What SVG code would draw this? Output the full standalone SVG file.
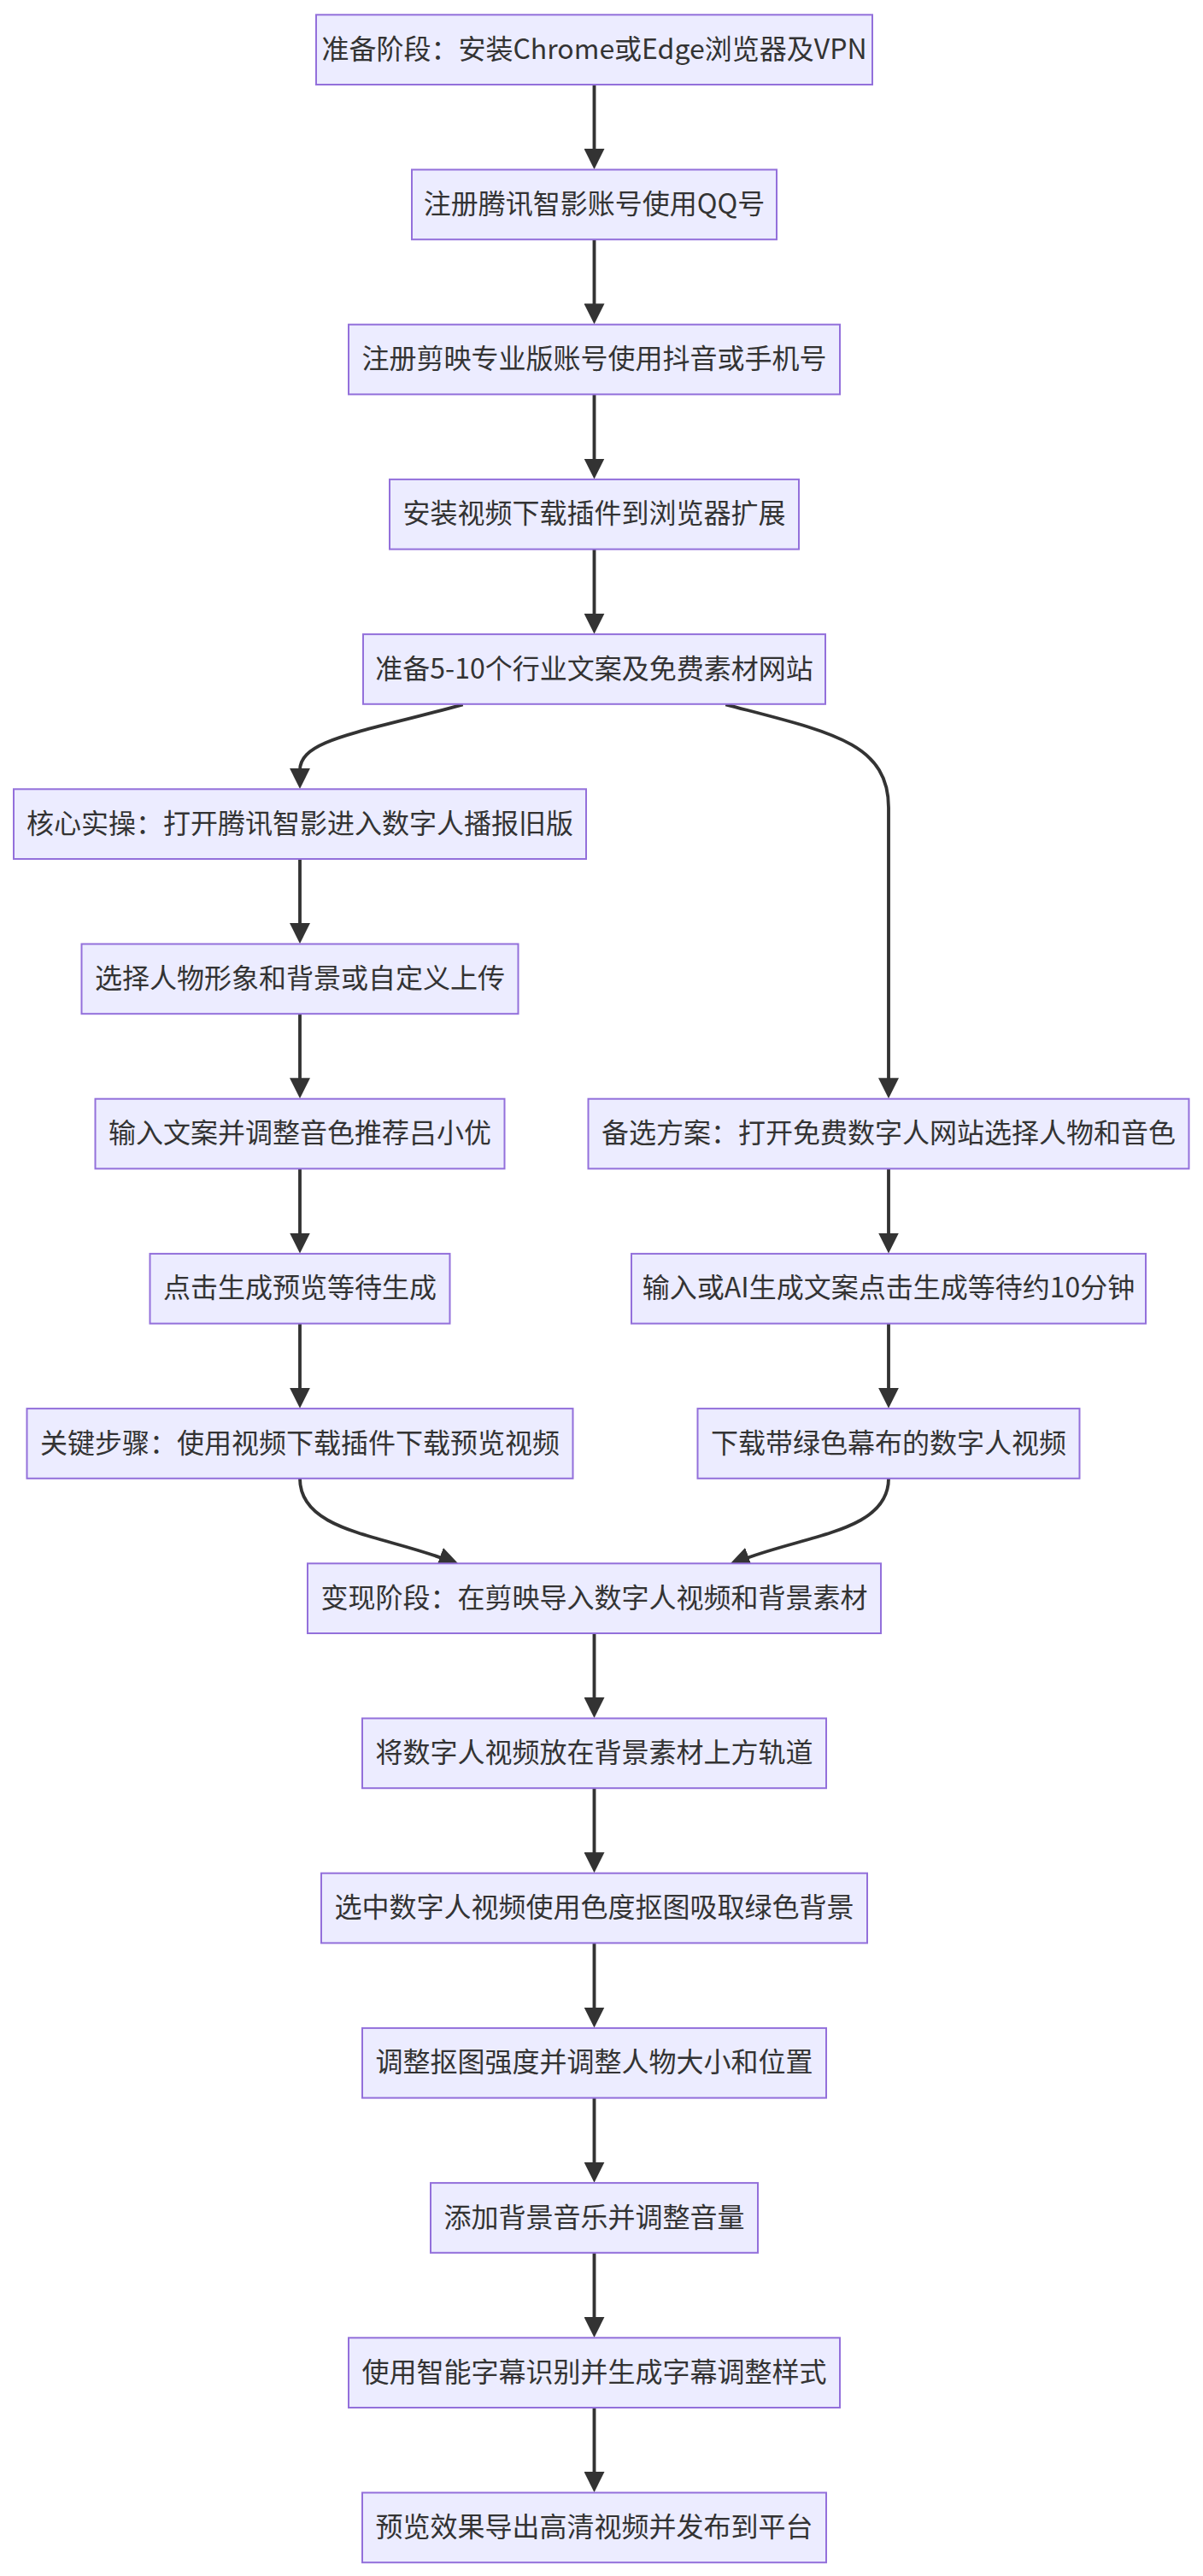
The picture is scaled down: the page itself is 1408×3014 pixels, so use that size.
<svg xmlns="http://www.w3.org/2000/svg" width="1408" height="3014" viewBox="0 0 1408 3014">
<style>
.node rect{fill:#ECECFF;stroke:#9370DB;stroke-width:2}
.node text{font-family:"Noto Sans CJK SC","Noto Sans",sans-serif;font-size:32px;fill:#333333;text-anchor:middle}
.edge{fill:none;stroke:#333333;stroke-width:3.85}
</style>
<defs>
<marker id="arrow" viewBox="0 0 10 10" refX="1" refY="5" markerUnits="userSpaceOnUse" markerWidth="24" markerHeight="24" orient="auto">
<path d="M0,0 L10,5 L0,10 z" fill="#333333"/>
</marker>
</defs>
<rect x="0" y="0" width="1408" height="3014" fill="#ffffff"/>
<g id="edges">
<path class="edge" marker-end="url(#arrow)" d="M695.5,99 V176.5"/>
<path class="edge" marker-end="url(#arrow)" d="M695.5,280.2 V357.7"/>
<path class="edge" marker-end="url(#arrow)" d="M695.5,461.4 V538.9"/>
<path class="edge" marker-end="url(#arrow)" d="M695.5,642.6 V720.1"/>
<path class="edge" marker-end="url(#arrow)" d="M541.7,824.3 C420,858 351,865 351,901.3"/>
<path class="edge" marker-end="url(#arrow)" d="M849.3,824.3 C970,856 1040,868 1040,945 V1263.7"/>
<path class="edge" marker-end="url(#arrow)" d="M351,1005 V1082.5"/>
<path class="edge" marker-end="url(#arrow)" d="M351,1186.2 V1263.7"/>
<path class="edge" marker-end="url(#arrow)" d="M351,1367.4 V1444.9"/>
<path class="edge" marker-end="url(#arrow)" d="M351,1548.6 V1626.1"/>
<path class="edge" marker-end="url(#arrow)" d="M1040,1367.4 V1444.9"/>
<path class="edge" marker-end="url(#arrow)" d="M1040,1548.6 V1626.1"/>
<path class="edge" marker-end="url(#arrow)" d="M351,1729.8 C351,1790 440,1795 517,1823"/>
<path class="edge" marker-end="url(#arrow)" d="M1040,1729.8 C1040,1790 951,1795 874,1823"/>
<path class="edge" marker-end="url(#arrow)" d="M695.5,1911 V1988.5"/>
<path class="edge" marker-end="url(#arrow)" d="M695.5,2092.2 V2169.7"/>
<path class="edge" marker-end="url(#arrow)" d="M695.5,2273.4 V2350.9"/>
<path class="edge" marker-end="url(#arrow)" d="M695.5,2454.6 V2532.1"/>
<path class="edge" marker-end="url(#arrow)" d="M695.5,2635.8 V2713.3"/>
<path class="edge" marker-end="url(#arrow)" d="M695.5,2817 V2894.5"/>
</g>
<g id="n1" class="node"><rect x="370" y="17.3" width="651" height="81.7"/><text x="695.5" y="68.8">准备阶段：安装Chrome或Edge浏览器及VPN</text></g>
<g id="n2" class="node"><rect x="482" y="198.5" width="427" height="81.7"/><text x="695.5" y="250">注册腾讯智影账号使用QQ号</text></g>
<g id="n3" class="node"><rect x="408" y="379.7" width="575" height="81.7"/><text x="695.5" y="431.2">注册剪映专业版账号使用抖音或手机号</text></g>
<g id="n4" class="node"><rect x="456" y="560.9" width="479" height="81.7"/><text x="695.5" y="612.4">安装视频下载插件到浏览器扩展</text></g>
<g id="n5" class="node"><rect x="425" y="742.1" width="541" height="81.7"/><text x="695.5" y="793.6">准备5-10个行业文案及免费素材网站</text></g>
<g id="n6" class="node"><rect x="16" y="923.3" width="670" height="81.7"/><text x="351" y="974.8">核心实操：打开腾讯智影进入数字人播报旧版</text></g>
<g id="n7" class="node"><rect x="95.5" y="1104.5" width="511" height="81.7"/><text x="351" y="1156">选择人物形象和背景或自定义上传</text></g>
<g id="n8" class="node"><rect x="111.5" y="1285.7" width="479" height="81.7"/><text x="351" y="1337.2">输入文案并调整音色推荐吕小优</text></g>
<g id="n9" class="node"><rect x="175.5" y="1466.9" width="351" height="81.7"/><text x="351" y="1518.4">点击生成预览等待生成</text></g>
<g id="n10" class="node"><rect x="31.5" y="1648.1" width="639" height="81.7"/><text x="351" y="1699.6">关键步骤：使用视频下载插件下载预览视频</text></g>
<g id="n11" class="node"><rect x="688.5" y="1285.7" width="703" height="81.7"/><text x="1040" y="1337.2">备选方案：打开免费数字人网站选择人物和音色</text></g>
<g id="n12" class="node"><rect x="739" y="1466.9" width="602" height="81.7"/><text x="1040" y="1518.4">输入或AI生成文案点击生成等待约10分钟</text></g>
<g id="n13" class="node"><rect x="816.5" y="1648.1" width="447" height="81.7"/><text x="1040" y="1699.6">下载带绿色幕布的数字人视频</text></g>
<g id="n14" class="node"><rect x="360" y="1829.3" width="671" height="81.7"/><text x="695.5" y="1880.8">变现阶段：在剪映导入数字人视频和背景素材</text></g>
<g id="n15" class="node"><rect x="424" y="2010.5" width="543" height="81.7"/><text x="695.5" y="2062">将数字人视频放在背景素材上方轨道</text></g>
<g id="n16" class="node"><rect x="376" y="2191.7" width="639" height="81.7"/><text x="695.5" y="2243.2">选中数字人视频使用色度抠图吸取绿色背景</text></g>
<g id="n17" class="node"><rect x="424" y="2372.9" width="543" height="81.7"/><text x="695.5" y="2424.4">调整抠图强度并调整人物大小和位置</text></g>
<g id="n18" class="node"><rect x="504" y="2554.1" width="383" height="81.7"/><text x="695.5" y="2605.6">添加背景音乐并调整音量</text></g>
<g id="n19" class="node"><rect x="408" y="2735.3" width="575" height="81.7"/><text x="695.5" y="2786.8">使用智能字幕识别并生成字幕调整样式</text></g>
<g id="n20" class="node"><rect x="424" y="2916.5" width="543" height="81.7"/><text x="695.5" y="2968">预览效果导出高清视频并发布到平台</text></g>
</svg>
